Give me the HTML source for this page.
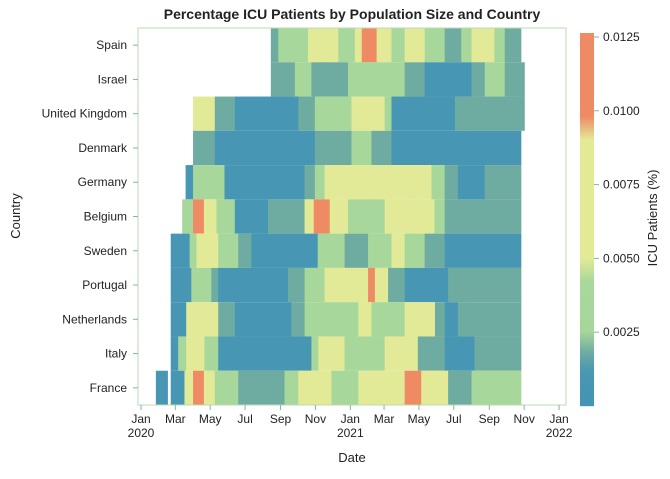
<!DOCTYPE html>
<html><head><meta charset="utf-8"><style>
body{margin:0;background:#fff;font-family:"Liberation Sans",Arial,sans-serif;}
svg text{font-family:"Liberation Sans",Arial,sans-serif;}
</style></head><body>
<svg id="chart" width="670" height="474" viewBox="0 0 670 474" xmlns="http://www.w3.org/2000/svg">
<text x="352" y="19" text-anchor="middle" font-size="14" font-weight="bold" fill="#222">Percentage ICU Patients by Population Size and Country</text>
<g id="cells"></g>
<rect x="138" y="28" width="428" height="377" fill="none" stroke="#b9ddb1" stroke-width="1"/>
<g id="xaxis"></g><g id="yaxis"></g><g id="cbar"></g>
<text x="352" y="462" text-anchor="middle" font-size="13" fill="#222">Date</text>
<text transform="translate(20,216) rotate(-90)" text-anchor="middle" font-size="13" fill="#222">Country</text>
<text transform="translate(657,218) rotate(-90)" text-anchor="middle" font-size="13" fill="#222">ICU Patients (%)</text>
</svg>
<script>
// days since 2020-01-01 for segment starts; values in %
const countries = ["Spain","Israel","United Kingdom","Denmark","Germany","Belgium","Sweden","Portugal","Netherlands","Italy","France"];
const B=0.0005,T=0.0018,G=0.003,Y=0.006,O=0.011;
const spainStart=[227,240,269,292,345,374,386,412,438,461,496,531,560,578,618,636];
const spainVal=[T,G,G,Y,G,Y,O,Y,G,Y,G,T,G,Y,G,T];
const israelStart=[227,269,298,321,362,391,461,496,578,601,636];
const israelVal=[T,G,T,T,G,G,T,B,T,G,T];
const ukStart=[91,129,164,275,304,368,426,438,549,578];
const ukVal=[Y,T,B,T,G,Y,G,B,T,T];
const denmarkStart=[91,129,304,333,368,403,438,508];
const denmarkVal=[T,B,T,T,G,T,B,B];
const germanyStart=[78,91,146,286,304,321,403,508,531,554,601];
const germanyVal=[B,G,B,T,G,Y,Y,G,T,B,T];
const belgiumStart=[72,91,110,132,164,222,286,302,330,362,426,479,513,531,578];
const belgiumVal=[G,O,Y,G,B,T,Y,O,Y,G,Y,Y,G,T,T];
const swedenStart=[52,85,97,135,170,193,309,356,397,438,461,496,531];
const swedenVal=[B,G,Y,G,T,B,G,T,G,Y,G,T,B];
const portugalStart=[52,88,123,135,257,286,321,397,409,432,461,537,578];
const portugalVal=[B,G,T,B,T,G,Y,O,Y,T,B,T,T];
const netherlandsStart=[52,79,135,164,263,286,321,380,403,461,514,531,554];
const netherlandsVal=[B,Y,T,B,T,G,G,Y,G,Y,T,B,T];
const italyStart=[52,65,79,111,135,298,310,356,426,484,531,583];
const italyVal=[B,G,Y,G,B,G,Y,G,Y,T,B,T];
const franceStart=[26,46,52,76,91,110,129,170,251,275,333,380,461,490,537,578];
const franceVal=[B,null,B,Y,O,Y,G,T,G,Y,G,Y,O,Y,T,G];
const endDay=[664,670,670,664,664,664,664,664,664,664,664];
const starts=[spainStart,israelStart,ukStart,denmarkStart,germanyStart,belgiumStart,swedenStart,portugalStart,netherlandsStart,italyStart,franceStart];
const vals=[spainVal,israelVal,ukVal,denmarkVal,germanyVal,belgiumVal,swedenVal,portugalVal,netherlandsVal,italyVal,franceVal];
const xTickLabels=["Jan\n2020","Mar","May","Jul","Sep","Nov","Jan\n2021","Mar","May","Jul","Sep","Nov","Jan\n2022"];
const xTickDays=[0,60,121,182,244,305,366,425,486,547,609,670,731];
const cbTicks=[0.0025,0.005,0.0075,0.01,0.0125];

const NS="http://www.w3.org/2000/svg";
const X=d=>141+d*0.5719;
const rowH=377/countries.length;
const Yr=i=>28+i*rowH;
const cbY=v=>406-v/0.0025*73.8;
const stops=[[0,[68,148,180]],[0.0012,[74,152,178]],[0.0018,[110,172,162]],[0.0025,[166,214,154]],[0.0042,[168,216,154]],[0.005,[226,234,151]],[0.009,[227,234,151]],[0.0098,[238,139,101]],[0.02,[238,139,101]]];
function color(v){for(let i=0;i<stops.length-1;i++){const a=stops[i],b=stops[i+1];if(v<=b[0]){const t=(v-a[0])/(b[0]-a[0]);return "rgb("+a[1].map((c,k)=>Math.round(c+(b[1][k]-c)*t)).join(",")+")";}}return "rgb(238,139,101)";}
function mk(tag,attrs,parent){const e=document.createElementNS(NS,tag);for(const k in attrs)e.setAttribute(k,attrs[k]);parent.appendChild(e);return e;}
const cells=document.getElementById("cells");
countries.forEach((c,i)=>{const s=starts[i],v=vals[i];
 for(let j=0;j<s.length;j++){if(v[j]===null)continue;const e=(j+1<s.length)?s[j+1]:endDay[i];
  const r=mk("rect",{x:X(s[j]),y:Yr(i),width:Math.max(0,X(e)-X(s[j]))+0.6,height:rowH,fill:color(v[j])},cells);
  
  }});
const xa=document.getElementById("xaxis");
xTickDays.forEach((d,i)=>{const x=X(d);
 const t=mk("line",{x1:x,x2:x,y1:405,y2:410,stroke:"#7fb8a4"},xa);
 
 
 const lines=xTickLabels[i].split("\n");
 lines.forEach((l,k)=>{const tx=mk("text",{x:x,y:423+k*14,"text-anchor":"middle","font-size":"12",fill:"#222"},xa);tx.textContent=l;
  
  });});
const ya=document.getElementById("yaxis");
countries.forEach((c,i)=>{const y=Yr(i)+rowH/2;
 const t=mk("line",{x1:133,x2:138,y1:y,y2:y,stroke:"#7fb8a4"},ya);
 
 
 const tx=mk("text",{x:127,y:y+4,"text-anchor":"end","font-size":"12",fill:"#222"},ya);tx.textContent=c;
 
 });
const cb=document.getElementById("cbar");
for(let p=406;p>33;p-=1){const v=(406-p)/73.8*0.0025;
 const r=mk("rect",{x:580,y:p-1,width:14,height:1.2,fill:color(v)},cb);
 
 }
cbTicks.forEach(v=>{const y=cbY(v);
 const t=mk("line",{x1:594,x2:599,y1:y,y2:y,stroke:"#7fb8a4"},cb);
 
 
 const tx=mk("text",{x:603,y:y+4,"font-size":"12",fill:"#222"},cb);tx.textContent=v.toFixed(4);
 
 });
</script>
</body></html>
